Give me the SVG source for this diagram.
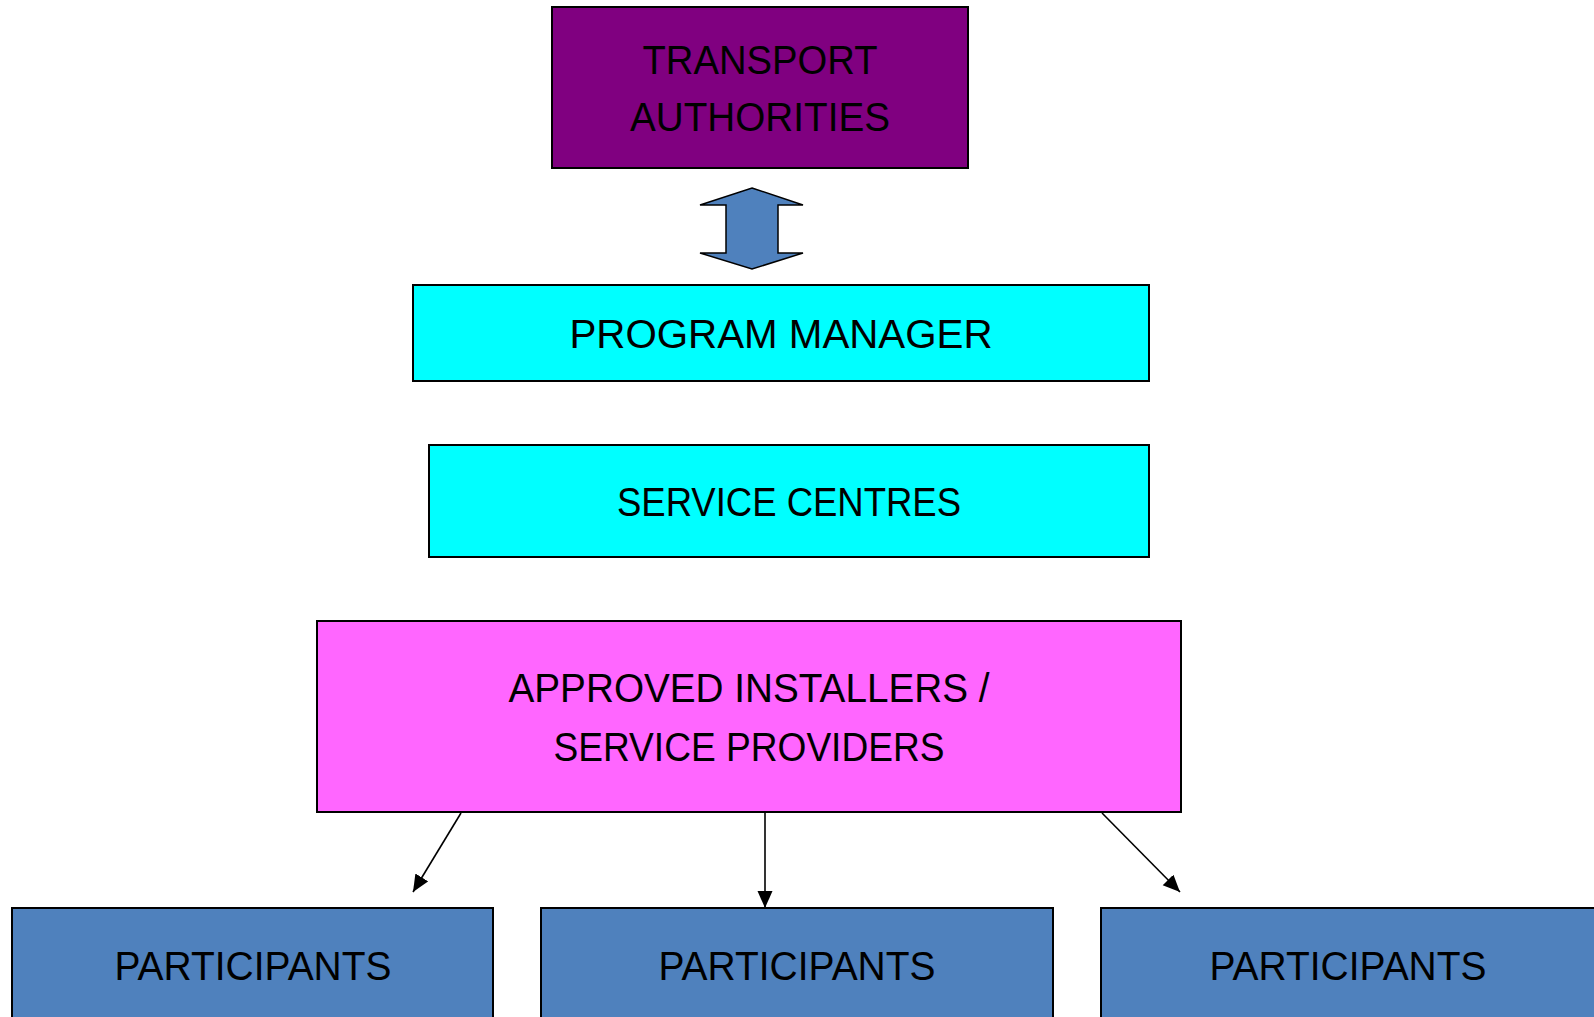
<svg xmlns="http://www.w3.org/2000/svg" width="1594" height="1017" viewBox="0 0 1594 1017">
<style>
.box{stroke:#000;stroke-width:2}
.lbl{font-family:"Liberation Sans",Arial,sans-serif;font-size:40px;fill:#000;text-anchor:middle}
.conn{stroke:#000;stroke-width:1.6;fill:none}
</style>
<defs>
<marker id="ah" markerUnits="userSpaceOnUse" markerWidth="18" markerHeight="16" refX="17" refY="7.5" orient="auto">
<path d="M0,0 L17,7.5 L0,15 z" fill="#000"/>
</marker>
</defs>
<rect width="1594" height="1017" fill="#fff"/>
<g id="transport-authorities">
<rect class="box" x="552" y="7" width="416" height="161" fill="#800080"/>
<text class="lbl" x="760" y="74" textLength="235" lengthAdjust="spacingAndGlyphs">TRANSPORT</text>
<text class="lbl" x="760" y="131" textLength="260" lengthAdjust="spacingAndGlyphs">AUTHORITIES</text>
</g>
<g id="double-arrow">
<polygon points="752,188 803,205 778,205 778,253 803,253 752,269 700,253 726,253 726,205 700,205" fill="#4F81BD" stroke="#000" stroke-width="1.5"/>
</g>
<g id="program-manager">
<rect class="box" x="413" y="285" width="736" height="96" fill="#00FFFF"/>
<text class="lbl" x="781" y="348" textLength="423" lengthAdjust="spacingAndGlyphs">PROGRAM MANAGER</text>
</g>
<g id="service-centres">
<rect class="box" x="429" y="445" width="720" height="112" fill="#00FFFF"/>
<text class="lbl" x="789" y="516" textLength="344" lengthAdjust="spacingAndGlyphs">SERVICE CENTRES</text>
</g>
<g id="approved-installers">
<rect class="box" x="317" y="621" width="864" height="191" fill="#FF66FF"/>
<text class="lbl" x="749" y="702" textLength="481" lengthAdjust="spacingAndGlyphs">APPROVED INSTALLERS /</text>
<text class="lbl" x="749" y="761" textLength="391" lengthAdjust="spacingAndGlyphs">SERVICE PROVIDERS</text>
</g>
<g id="participants-1">
<rect class="box" x="12" y="908" width="481" height="120" fill="#4F81BD"/>
<text class="lbl" x="253" y="980" textLength="277" lengthAdjust="spacingAndGlyphs">PARTICIPANTS</text>
</g>
<g id="participants-2">
<rect class="box" x="541" y="908" width="512" height="120" fill="#4F81BD"/>
<text class="lbl" x="797" y="980" textLength="277" lengthAdjust="spacingAndGlyphs">PARTICIPANTS</text>
</g>
<g id="participants-3">
<rect class="box" x="1101" y="908" width="500" height="120" fill="#4F81BD"/>
<text class="lbl" x="1348" y="980" textLength="277" lengthAdjust="spacingAndGlyphs">PARTICIPANTS</text>
</g>
<g id="connectors">
<line class="conn" x1="461" y1="813" x2="413" y2="892" marker-end="url(#ah)"/>
<line class="conn" x1="765" y1="813" x2="765" y2="908" marker-end="url(#ah)"/>
<line class="conn" x1="1102" y1="813" x2="1180" y2="892" marker-end="url(#ah)"/>
</g>
</svg>
